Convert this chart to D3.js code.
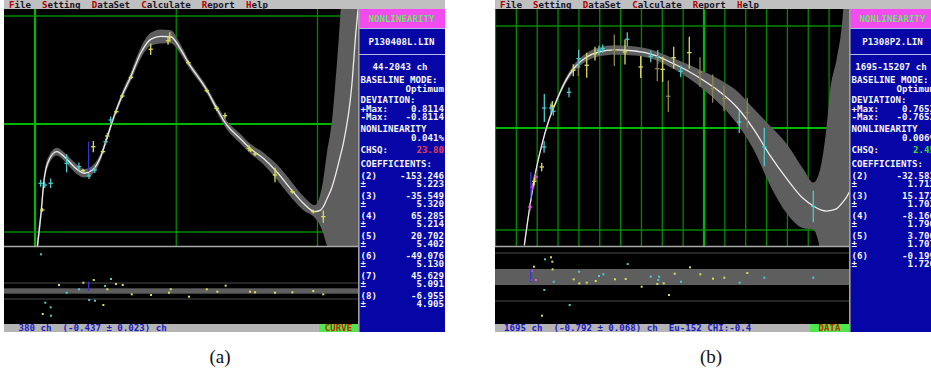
<!DOCTYPE html>
<html><head><meta charset="utf-8">
<script src="https://cdn.jsdelivr.net/npm/d3@7"></script>
<style>
html,body{margin:0;padding:0;background:#fff;}
svg{display:block;}
text.dos{font-family:"DejaVu Sans Mono",monospace;font-weight:bold;font-size:9.15px;white-space:pre;}
text.cap{font-family:"Liberation Serif","DejaVu Serif",serif;font-size:19px;}
</style></head><body>
<svg id="c" width="931" height="373"></svg>
<script>
// ---------- fit (a): P130408L.LIN ----------
const curveChA  = [14, 45, 64, 99, 154, 217, 276, 347, 406, 465, 512, 559, 618, 678, 748, 819, 890, 961, 1027, 1085, 1216, 1286, 1357, 1451, 1522, 1616, 1711, 1817, 1900, 1982, 2018, 2041, 2067, 2103, 2124, 2159, 2183, 2242, 2273, 2290];
const curveDevA = [-1.16, -0.796, -0.519, -0.333, -0.256, -0.315, -0.395, -0.456, -0.426, -0.303, -0.118, 0.068, 0.269, 0.438, 0.655, 0.784, 0.811, 0.808, 0.701, 0.568, 0.315, 0.145, -0.009, -0.132, -0.225, -0.318, -0.442, -0.611, -0.734, -0.811, -0.80, -0.766, -0.694, -0.583, -0.49, -0.31, -0.179, 0.345, 0.87, 1.10];
const bandErrA  = [0.08, 0.07, 0.05, 0.04, 0.035, 0.04, 0.045, 0.04, 0.04, 0.035, 0.03, 0.03, 0.035, 0.04, 0.05, 0.06, 0.065, 0.06, 0.045, 0.035, 0.03, 0.035, 0.04, 0.045, 0.045, 0.055, 0.07, 0.075, 0.065, 0.06, 0.14, 0.25, 0.43, 0.62, 0.83, 1.27, 1.7, 2.8, 3.5, 4.0];

const ptChA  = [40, 69, 111, 52, 224, 311, 340, 382, 423, 413, 481, 500, 512, 536, 576, 618, 680, 819, 942, 954, 1085, 1216, 1286, 1345, 1515, 1527, 1558, 1699, 1822, 1970, 2041];
const ptDevA = [-0.549, -0.565, -0.549, -0.796, -0.364, -0.395, -0.432, -0.481, -0.426, -0.210, -0.256, -0.164, -0.111, 0.037, 0.114, 0.259, 0.432, 0.692, 0.771, 0.808, 0.568, 0.308, 0.145, 0.077, -0.225, -0.241, -0.278, -0.472, -0.627, -0.812, -0.858];
const ptErrA = [0.025, 0.02, 0.037, 0.01, 0.077, 0.03, 0.01, 0.02, 0.02, 0.045, 0.01, 0.02, 0.02, 0.025, 0.01, 0.01, 0.01, 0.045, 0.03, 0.035, 0.01, 0.01, 0.015, 0.02, 0.02, 0.01, 0.01, 0.06, 0.01, 0.01, 0.05];
const ptColA = "cccyccyccyycycyyyyyyyyyyyyyyyyy";

const resChA  = [42, 55, 73, 111, 113, 170, 224, 312, 342, 384, 416, 425, 484, 496, 512, 538, 573, 621, 685, 821, 949, 961, 1090, 1216, 1291, 1350, 1522, 1558, 1699, 1822, 1970, 2041];
const resValA = [13.76, -8.62, -4.39, -6.11, -9.26, 2.25, -0.64, 0.64, 3.11, -3.37, 4.12, -3.64, -5.25, 1.87, 0.64, 4.5, 2.62, 2.25, -1.24, -1.5, -0.64, 0.64, -2.14, 0.64, -0.26, 1.99, -0.26, -0.49, -0.64, -0.49, 0, -1.24];
const resColA = "cycccyccycycycycyyyyyyyyyyyyyyyy";

const gridMajorChA = [0];
const gridMinorChA = [1000, 2000];
const cursorA      = [380, -0.44, -0.165];   // channel, low, high
const cursorResA   = [0, 3.5];
const fileA    = "P130408L.LIN";
const rangeA   = [44, 2043];
const devMaxA  = [0.8114, -0.8114];
const nonlinA  = 0.041;
const chsqA    = 23.80;
const coefA    = [-153.246, -35.549, 65.285, 20.702, -49.076, 45.629, -6.955];
const coefErrA = [5.223, 5.320, 5.214, 5.402, 5.130, 5.091, 4.905];
const statusA  = [380, -0.437, 0.023];
const modeA    = "CURVE";

// ---------- fit (b): P1308P2.LIN ----------
const curveChB  = [1382, 1655, 1894, 2216, 2532, 2935, 3333, 3813, 4374, 4930, 5731, 6691, 7650, 8369, 9170, 9966, 10767, 11568, 12365, 13165, 13966, 14763, 15243, 15565, 15885, 16045, 16365, 16605, 16844, 16990];
const curveDevB = [-1.15, -0.758, -0.464, -0.170, 0.059, 0.272, 0.451, 0.598, 0.696, 0.745, 0.765, 0.755, 0.713, 0.647, 0.566, 0.468, 0.353, 0.206, -0.006, -0.268, -0.496, -0.692, -0.765, -0.80, -0.815, -0.81, -0.79, -0.74, -0.676, -0.62];
const bandErrB  = [0.04, 0.03, 0.025, 0.02, 0.02, 0.025, 0.03, 0.035, 0.04, 0.045, 0.046, 0.045, 0.045, 0.05, 0.065, 0.088, 0.12, 0.16, 0.2, 0.29, 0.34, 0.29, 0.23, 0.39, 0.84, 1.17, 1.47, 1.73, 2.3, 2.6];

const ptChB  = [2341, 2662, 2724, 2772, 3525, 2330, 2216, 1861, 1765, 1655, 1928, 3731, 3971, 3990, 4374, 4772, 4964, 5141, 5698, 6211, 6321, 6964, 7444, 7779, 7760, 8019, 8288, 8547, 8883, 9295, 9808, 10417, 10959, 11693, 12077, 12892, 15242];
const ptDevB = [0.196, 0.196, 0.216, 0.164, 0.35, -0.186, -0.382, -0.523, -0.579, -0.774, -0.480, 0.566, 0.598, 0.680, 0.615, 0.729, 0.762, 0.778, 0.762, 0.745, 0.870, 0.598, 0.703, 0.696, 0.582, 0.575, 0.311, 0.689, 0.556, 0.739, 0.548, 0.386, 0.288, 0.059, 0.150, -0.186, -0.769];
const ptErrB = [0.13, 0.04, 0.04, 0.033, 0.04, 0.05, 0.033, 0.033, 0.03, 0.03, 0.03, 0.05, 0.08, 0.08, 0.115, 0.06, 0.04, 0.033, 0.147, 0.115, 0.06, 0.1, 0.05, 0.06, 0.115, 0.115, 0.147, 0.1, 0.05, 0.147, 0.137, 0.13, 0.115, 0.1, 0.137, 0.18, 0.147];
const ptColB = "ccycccyymmmyocyyccoycyccoyoycyooococc";

const resChB  = [1736, 1703, 1942, 1847, 2374, 2662, 2724, 2740, 2791, 2341, 3559, 2230, 3751, 4005, 4019, 4374, 4806, 4964, 5170, 6341, 5731, 6245, 7012, 7444, 7842, 7808, 7760, 8067, 8321, 8595, 8897, 9329, 9823, 10432, 10974, 11712, 12077, 12892, 15242];
const resValB = [0.75, -0.375, -0.375, 1.29, 2.21, 2.46, 1.91, 0.96, -0.59, -1.62, -3.5, -4.84, -0.29, 0.66, -0.79, -0.71, -0.5, 0.125, 0.34, 1.62, -0.29, -0.25, -1.21, 0.04, 0.04, -0.375, -0.875, -0.79, -2.25, 0.41, -0.59, 1.21, 0.34, -0.21, -0.09, -0.71, 0.5, -0.09, -0.09];
const resColB = "mmmycyyycccyycyyycccyyycccyyyycyyyycycc";

const gridMajorChB = [10000];
const gridMinorChB = [0, 1000, 2000, 3000, 4000, 5000, 6000, 7000, 8000, 9000, 11000, 12000, 13000, 14000, 15000, 16000];
const cursorB      = [1695, -0.692, -0.431];
const cursorResB   = [-0.625, 0.875];
const fileB    = "P1308P2.LIN";
const rangeB   = [1695, 15207];
const devMaxB  = [0.7653, -0.7653];
const nonlinB  = 0.006;
const chsqB    = 2.45;
const coefB    = [-32.583, 15.172, -8.166, 3.700, -0.199];
const coefErrB = [1.713, 1.703, 1.790, 1.707, 1.726];
const statusB  = [1695, -0.792, 0.068];
const sourceB  = "Eu-152 CHI:-0.4";
const modeB    = "DATA";

const menuItems = ["File", "Setting", "DataSet", "Calculate", "Report", "Help"];

// ---------- drawing ----------
const COLORS = {y: "#dcdc5c", c: "#4ccccc", o: "#8e8650", m: "#e060e0"};
const CW = 5.51;              // monospace cell width
const svg = d3.select("#c");

function zipCurve(ch, dev, err) { return ch.map((c, i) => ({ch: c, dev: dev[i], e: err[i]})); }

function drawPanel(P) {
  const g = svg.append("g").attr("transform", `translate(${P.dx},0)`);
  const defs = g.append("defs");
  defs.append("clipPath").attr("id", "main" + P.id)
    .append("rect").attr("x", 4).attr("y", 9).attr("width", 354).attr("height", 237);
  defs.append("clipPath").attr("id", "res" + P.id)
    .append("rect").attr("x", 4).attr("y", 247).attr("width", 354).attr("height", 77);

  const x = d3.scaleLinear().domain(P.xRefCh).range(P.xRefPx);
  const y = d3.scaleLinear().domain([-1, 1]).range(P.yRefPx);
  const r = d3.scaleLinear().domain([-3, 3]).range(P.rRefPx);

  // screen background
  g.append("rect").attr("x", 4).attr("y", 9).attr("width", 354).attr("height", 315).attr("fill", "#000");

  // ---- main plot ----
  const m = g.append("g").attr("clip-path", `url(#main${P.id})`);
  const gMinor = "#008a00", gMajor = "#00b800";
  m.selectAll("line.vmin").data(P.gridMinor).join("line")
    .attr("x1", d => x(d)).attr("x2", d => x(d)).attr("y1", 9).attr("y2", 246)
    .attr("stroke", gMinor).attr("stroke-width", 1.3);
  m.selectAll("line.vmaj").data(P.gridMajor).join("line")
    .attr("x1", d => x(d)).attr("x2", d => x(d)).attr("y1", 9).attr("y2", 246)
    .attr("stroke", gMajor).attr("stroke-width", 2.2);
  m.selectAll("line.hmin").data([-1, 1]).join("line")
    .attr("x1", 4).attr("x2", 358).attr("y1", d => y(d)).attr("y2", d => y(d))
    .attr("stroke", gMinor).attr("stroke-width", 1.3);
  m.append("line").attr("x1", 4).attr("x2", 358).attr("y1", y(0)).attr("y2", y(0))
    .attr("stroke", gMajor).attr("stroke-width", 2.2);

  const cd = zipCurve(P.curveCh, P.curveDev, P.bandErr);
  m.append("path").datum(cd)
    .attr("d", d3.area().x(d => x(d.ch)).y0(d => y(d.dev - d.e)).y1(d => y(d.dev + d.e)).curve(d3.curveMonotoneX))
    .attr("fill", "#5e5e5e");
  m.append("path").datum(cd)
    .attr("d", d3.line().x(d => x(d.ch)).y(d => y(d.dev)).curve(d3.curveMonotoneX))
    .attr("fill", "none").attr("stroke", "#ececec").attr("stroke-width", 1.3);

  const pts = P.ptCh.map((c, i) => ({ch: c, dev: P.ptDev[i], e: P.ptErr[i], col: COLORS[P.ptCol[i]]}));
  const pg = m.selectAll("g.pt").data(pts).join("g");
  pg.append("line").attr("x1", d => x(d.ch)).attr("x2", d => x(d.ch))
    .attr("y1", d => y(d.dev - d.e) + 0.8).attr("y2", d => y(d.dev + d.e) - 0.8)
    .attr("stroke", d => d.col).attr("stroke-width", 1.3);
  pg.append("line").attr("x1", d => x(d.ch) - 2.2).attr("x2", d => x(d.ch) + 2.2)
    .attr("y1", d => y(d.dev)).attr("y2", d => y(d.dev))
    .attr("stroke", d => d.col).attr("stroke-width", 1.3);

  m.append("line").attr("x1", x(P.cursor[0])).attr("x2", x(P.cursor[0]))
    .attr("y1", y(P.cursor[1])).attr("y2", y(P.cursor[2]))
    .attr("stroke", "#3434d8").attr("stroke-width", 1.3);

  // ---- residual strip ----
  const rg = g.append("g").attr("clip-path", `url(#res${P.id})`);
  rg.append("rect").attr("x", 4).attr("width", 354).attr("y", r(1)).attr("height", r(-1) - r(1)).attr("fill", "#5e5e5e");
  rg.selectAll("line.lim").data([-3, 3]).join("line")
    .attr("x1", 4).attr("x2", 358).attr("y1", d => r(d)).attr("y2", d => r(d))
    .attr("stroke", "#4a4a4a").attr("stroke-width", 1.2);
  const res = P.resCh.map((c, i) => ({ch: c, v: P.resVal[i], col: COLORS[P.resCol[i]]}));
  rg.selectAll("rect.dot").data(res).join("rect")
    .attr("x", d => x(d.ch) - 1).attr("y", d => r(d.v) - 1).attr("width", 2).attr("height", 2)
    .attr("fill", d => d.col);
  rg.append("line").attr("x1", x(P.cursor[0])).attr("x2", x(P.cursor[0]))
    .attr("y1", r(P.cursorRes[0])).attr("y2", r(P.cursorRes[1]))
    .attr("stroke", "#3434d8").attr("stroke-width", 1.3);

  g.append("line").attr("x1", 4).attr("x2", 358).attr("y1", 246.5).attr("y2", 246.5)
    .attr("stroke", "#a8a8a8").attr("stroke-width", 1.6);

  // ---- status bar ----
  g.append("rect").attr("x", 4).attr("y", 324).attr("width", 354).attr("height", 8).attr("fill", "#b4b4b4");
  const st = P.status;
  const stText = String(st[0]).padStart(5) + " ch  (" + st[1].toFixed(3) + " \u00b1 " + st[2].toFixed(3) + ") ch" +
    (P.source ? "  " + P.source : "");
  g.append("text").attr("class", "dos").attr("x", 7.5).attr("y", 331.2).attr("fill", "#1c1cc4").text(stText);
  g.append("rect").attr("x", 319).attr("y", 324).attr("width", 39).attr("height", 8).attr("fill", "#4ee84e");
  g.append("text").attr("class", "dos").attr("x", 338.5).attr("y", 331.2).attr("text-anchor", "middle")
    .attr("fill", "#c02c00").text(P.mode);

  // ---- side panel ----
  g.append("rect").attr("x", 358).attr("y", 9).attr("width", 87).attr("height", 323).attr("fill", "#0606a6");
  g.append("rect").attr("x", 358).attr("y", 9).attr("width", 87).attr("height", 19).attr("fill", "#f24cee");
  g.append("line").attr("x1", 358).attr("x2", 445).attr("y1", 28.5).attr("y2", 28.5).attr("stroke", "#b8b8e8").attr("stroke-width", 1);
  g.append("line").attr("x1", 358).attr("x2", 445).attr("y1", 54.5).attr("y2", 54.5).attr("stroke", "#b8b8e8").attr("stroke-width", 1);
  g.append("line").attr("x1", 358.8).attr("x2", 358.8).attr("y1", 9).attr("y2", 332).attr("stroke", "#a0a0a0").attr("stroke-width", 1.6);

  const T = (tx, ty, s, anchor, fill) => g.append("text").attr("class", "dos")
    .attr("x", tx).attr("y", ty + 3.3).attr("text-anchor", anchor || "start").attr("fill", fill || "#f4f4f4").text(s);
  const L = 360.5, R = 444;
  T(401.5, 19, "NONLINEARITY", "middle", "#74dc74");
  T(401.5, 41.7, P.file, "middle");
  T(400, 66.7, P.range[0] + "-" + P.range[1] + " ch", "middle");
  T(L, 80, "BASELINE MODE:");
  T(R, 88.3, "Optimum", "end");
  T(L, 100, "DEVIATION:");
  T(L, 108.3, "+Max:"); T(R, 108.3, P.devMax[0].toFixed(4), "end");
  T(L, 116.7, "-Max:"); T(R, 116.7, P.devMax[1].toFixed(4), "end");
  T(L, 129, "NONLINEARITY");
  T(R, 137.3, P.nonlin.toFixed(3) + "%", "end");
  T(L, 150, "CHSQ:"); T(R, 150, P.chsq.toFixed(2), "end", P.chsqColor);
  T(L, 163.3, "COEFFICIENTS:");
  P.coef.forEach((c, i) => {
    const yy = 175.7 + 20 * i;
    T(L, yy, "(" + (i + 2) + ")");
    T(R, yy, c.toFixed(3), "end");
    T(L, yy + 8.3, "\u00b1");
    T(R, yy + 8.3, P.coefErr[i].toFixed(3), "end");
  });

  // ---- menu bar ----
  g.append("rect").attr("x", 4).attr("y", 0).attr("width", 441).attr("height", 9).attr("fill", "#c0c0c0");
  let idx = 0;
  menuItems.forEach(item => {
    const t = g.append("text").attr("class", "dos").attr("x", 9 + idx * CW).attr("y", 7.6);
    t.append("tspan").attr("fill", "#b40000").text(item[0]);
    t.append("tspan").attr("fill", "#141428").text(item.slice(1));
    idx += item.length + 2;
  });

  g.append("text").attr("class", "cap").attr("x", 220).attr("y", 363).attr("text-anchor", "middle")
    .attr("fill", "#111").text(P.caption);
}

drawPanel({
  id: "A", dx: 0, caption: "(a)",
  xRefCh: [0, 2000], xRefPx: [35, 317.5], yRefPx: [232, 16], rRefPx: [299, 283],
  curveCh: curveChA, curveDev: curveDevA, bandErr: bandErrA,
  ptCh: ptChA, ptDev: ptDevA, ptErr: ptErrA, ptCol: ptColA,
  resCh: resChA, resVal: resValA, resCol: resColA,
  gridMajor: gridMajorChA, gridMinor: gridMinorChA,
  cursor: cursorA, cursorRes: cursorResA,
  file: fileA, range: rangeA, devMax: devMaxA, nonlin: nonlinA, chsq: chsqA, chsqColor: "#e83c5c",
  coef: coefA, coefErr: coefErrA, status: statusA, source: null, mode: modeA
});

drawPanel({
  id: "B", dx: 491, caption: "(b)",
  xRefCh: [0, 10000], xRefPx: [4.5, 213], yRefPx: [230, 26], rRefPx: [301, 253],
  curveCh: curveChB, curveDev: curveDevB, bandErr: bandErrB,
  ptCh: ptChB, ptDev: ptDevB, ptErr: ptErrB, ptCol: ptColB,
  resCh: resChB, resVal: resValB, resCol: resColB,
  gridMajor: gridMajorChB, gridMinor: gridMinorChB,
  cursor: cursorB, cursorRes: cursorResB,
  file: fileB, range: rangeB, devMax: devMaxB, nonlin: nonlinB, chsq: chsqB, chsqColor: "#3cd83c",
  coef: coefB, coefErr: coefErrB, status: statusB, source: sourceB, mode: modeB
});
</script>
</body></html>
